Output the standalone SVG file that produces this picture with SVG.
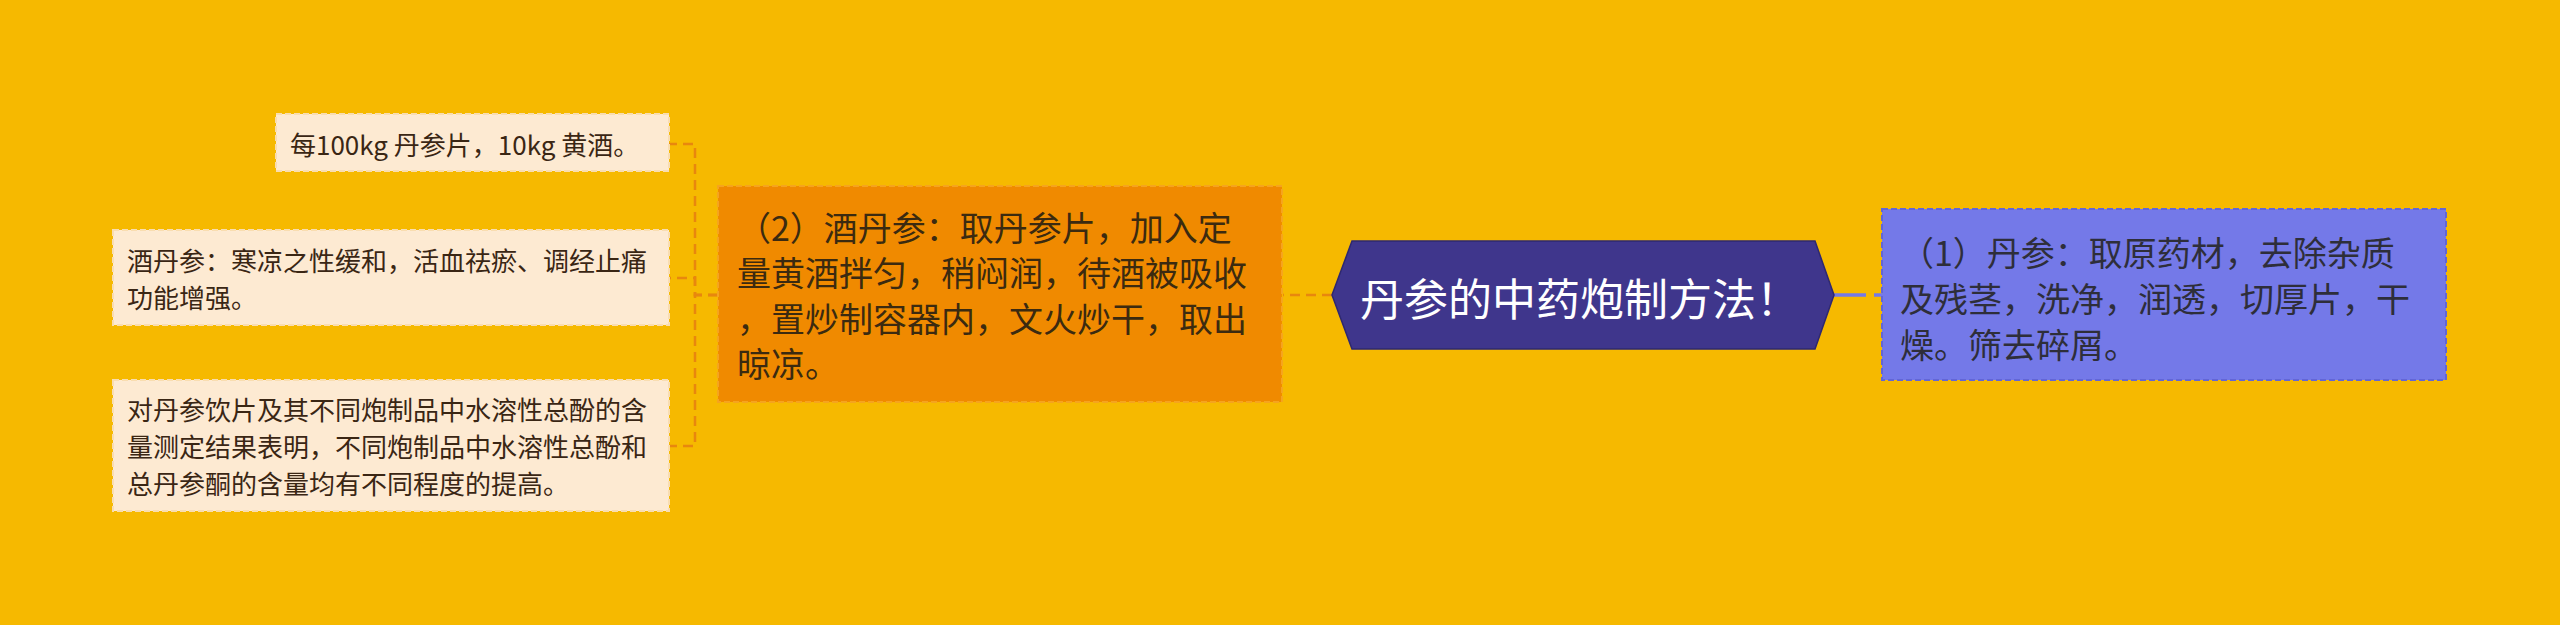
<svg xmlns="http://www.w3.org/2000/svg" width="2560" height="625" viewBox="0 0 2560 625">
<style>
  .t { font-family: "Noto Sans CJK SC", "Noto Sans", sans-serif; }
  .leaf rect { fill: #FDEAD2; stroke: #F9DDB0; stroke-width: 2; stroke-dasharray: 6 3; }
  .leaf text { fill: #3A2614; font-size: 26px; }
  .conL { fill: none; stroke: #E8870E; stroke-width: 2.5; stroke-dasharray: 10 6; }
  .conR { fill: none; stroke: #7479E8; stroke-width: 3.5; stroke-dasharray: 32 8; }
</style>
<rect x="0" y="0" width="2560" height="625" fill="#F6B900"/>
<g id="connectors">
  <path class="conL" d="M718,295 H695 V144 H669"/>
  <path class="conL" d="M718,295 H695 V278 H669"/>
  <path class="conL" d="M718,295 H695 V446 H669"/>
  <path class="conL" d="M1332,295 H1283"/>
  <path class="conR" d="M1834,295 H1882"/>
</g>
<g id="root">
  <polygon points="1332,295 1352,241 1815,241 1834,295 1815,349 1352,349" fill="#3F368C" stroke="#2E2870" stroke-width="1.5"/>
  <text class="t" x="1580" y="297" text-anchor="middle" dominant-baseline="central" font-size="44" fill="#FFFFFF">丹参的中药炮制方法！</text>
</g>
<g id="node-right">
  <rect x="1882" y="209" width="564" height="171" fill="#7479E8" stroke="#6266D6" stroke-width="2" stroke-dasharray="6 3"/>
  <text class="t" font-size="34" fill="#2E2E3A" dominant-baseline="central">
    <tspan x="1900" y="251">（1）丹参：取原药材，去除杂质</tspan>
    <tspan x="1900" y="297">及残茎，洗净，润透，切厚片，干</tspan>
    <tspan x="1900" y="343">燥。筛去碎屑。</tspan>
  </text>
</g>
<g id="node-left">
  <rect x="718" y="186" width="564" height="216" fill="#F08A00" stroke="#F5A41E" stroke-width="2" stroke-dasharray="6 3"/>
  <text class="t" font-size="34" fill="#3B2A10" dominant-baseline="central">
    <tspan x="737" y="226">（2）酒丹参：取丹参片，加入定</tspan>
    <tspan x="737" y="271">量黄酒拌匀，稍闷润，待酒被吸收</tspan>
    <tspan x="737" y="317">，置炒制容器内，文火炒干，取出</tspan>
    <tspan x="737" y="362">晾凉。</tspan>
  </text>
</g>
<g id="leaf1" class="leaf">
  <rect x="276" y="114" width="393" height="57"/>
  <text class="t" x="290" y="143" dominant-baseline="central">每100kg 丹参片，10kg 黄酒。</text>
</g>
<g id="leaf2" class="leaf">
  <rect x="113" y="230" width="556" height="95"/>
  <text class="t" dominant-baseline="central">
    <tspan x="127" y="259">酒丹参：寒凉之性缓和，活血祛瘀、调经止痛</tspan>
    <tspan x="127" y="296">功能增强。</tspan>
  </text>
</g>
<g id="leaf3" class="leaf">
  <rect x="113" y="380" width="556" height="131"/>
  <text class="t" dominant-baseline="central">
    <tspan x="127" y="408">对丹参饮片及其不同炮制品中水溶性总酚的含</tspan>
    <tspan x="127" y="445">量测定结果表明，不同炮制品中水溶性总酚和</tspan>
    <tspan x="127" y="482">总丹参酮的含量均有不同程度的提高。</tspan>
  </text>
</g>
</svg>
